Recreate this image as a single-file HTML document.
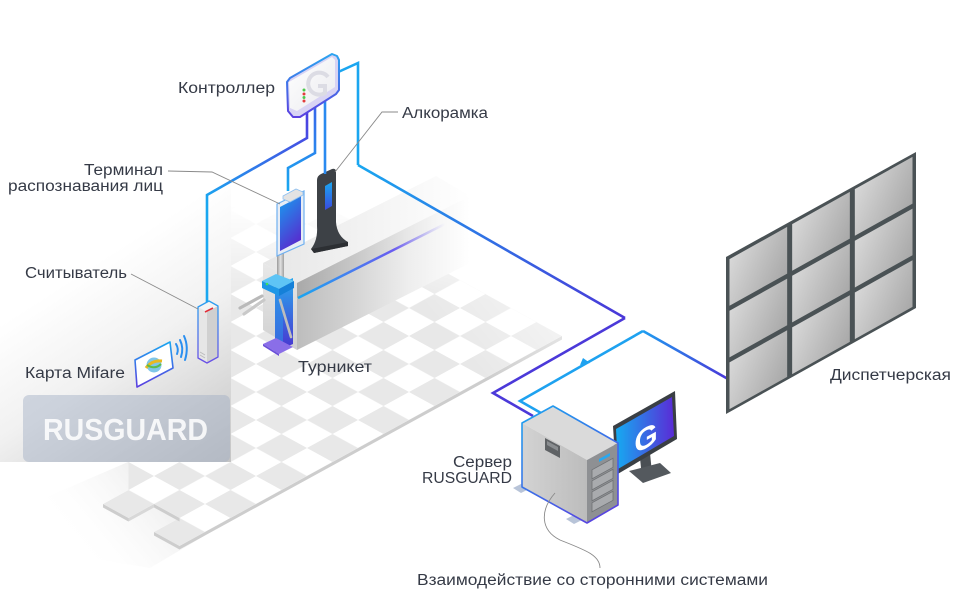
<!DOCTYPE html>
<html><head><meta charset="utf-8">
<style>
html,body{margin:0;padding:0;background:#fff;}
svg{display:block;}
text{font-family:"Liberation Sans",sans-serif;fill:#353a46;}
</style></head><body>
<svg width="973" height="594" viewBox="0 0 973 594" xmlns="http://www.w3.org/2000/svg">
<defs>
 <pattern id="chk" patternUnits="userSpaceOnUse" width="2" height="2" patternTransform="matrix(25.5,14,25.5,-14,154,532)">
  <rect x="0" y="0" width="2" height="2" fill="#ffffff"/>
  <rect x="0" y="0" width="1" height="1" fill="#e8e8e8"/>
  <rect x="1" y="1" width="1" height="1" fill="#e8e8e8"/>
 </pattern>
 <linearGradient id="mv" gradientUnits="userSpaceOnUse" x1="0" y1="205" x2="0" y2="300"><stop offset="0" stop-color="#000"/><stop offset="1" stop-color="#fff"/></linearGradient>
 <linearGradient id="mr" gradientUnits="userSpaceOnUse" x1="600" y1="250" x2="470" y2="360"><stop offset="0" stop-color="#000" stop-opacity="0.9"/><stop offset="1" stop-color="#000" stop-opacity="0"/></linearGradient>
 <mask id="fm" maskUnits="userSpaceOnUse" x="0" y="0" width="973" height="594">
  <rect width="973" height="594" fill="url(#mv)"/>
  <rect width="973" height="594" fill="url(#mr)"/>
 </mask>
 <linearGradient id="panel" gradientUnits="userSpaceOnUse" x1="100" y1="260" x2="231" y2="462"><stop offset="0" stop-color="#ffffff"/><stop offset="0.4" stop-color="#f1f1f1"/><stop offset="1" stop-color="#c4c4c4"/></linearGradient>
 <linearGradient id="shadow" gradientUnits="userSpaceOnUse" x1="190" y1="470" x2="80" y2="560"><stop offset="0" stop-color="#e2e2e2"/><stop offset="1" stop-color="#ffffff" stop-opacity="0"/></linearGradient>
 <linearGradient id="blkFront" gradientUnits="userSpaceOnUse" x1="297" y1="0" x2="470" y2="0"><stop offset="0" stop-color="#bdbdbd"/><stop offset="0.3" stop-color="#d2d2d2"/><stop offset="0.65" stop-color="#eeeeee"/><stop offset="1" stop-color="#ffffff"/></linearGradient>
 <linearGradient id="blkBand" gradientUnits="userSpaceOnUse" x1="297" y1="0" x2="440" y2="0"><stop offset="0" stop-color="#a9a9a9"/><stop offset="1" stop-color="#e0e0e0" stop-opacity="0"/></linearGradient>
 <linearGradient id="blkTop" gradientUnits="userSpaceOnUse" x1="263" y1="0" x2="470" y2="0"><stop offset="0" stop-color="#e6e6e6"/><stop offset="0.6" stop-color="#f5f5f5"/><stop offset="1" stop-color="#ffffff"/></linearGradient>
 <linearGradient id="blkEnd" x1="0" y1="0" x2="0" y2="1"><stop offset="0" stop-color="#e8e8e8"/><stop offset="1" stop-color="#d0d0d0"/></linearGradient>
 <linearGradient id="accent" gradientUnits="userSpaceOnUse" x1="298" y1="0" x2="445" y2="0"><stop offset="0" stop-color="#1aa6f0"/><stop offset="0.65" stop-color="#6a5cf0"/><stop offset="1" stop-color="#8a80f0" stop-opacity="0"/></linearGradient>
 <linearGradient id="turnCol" x1="0" y1="0" x2="0" y2="1"><stop offset="0" stop-color="#2aa8ee"/><stop offset="1" stop-color="#4a30cf"/></linearGradient>
 <linearGradient id="termScr" x1="0" y1="0" x2="0.4" y2="1"><stop offset="0" stop-color="#169ff0"/><stop offset="1" stop-color="#5530d0"/></linearGradient>
 <linearGradient id="alcoScr" x1="0" y1="0" x2="0" y2="1"><stop offset="0" stop-color="#1aa6f0"/><stop offset="1" stop-color="#3a4ae0"/></linearGradient>
 <linearGradient id="pole" x1="0" y1="0" x2="1" y2="0"><stop offset="0" stop-color="#9a9a9a"/><stop offset="0.5" stop-color="#e2e2e2"/><stop offset="1" stop-color="#a0a0a0"/></linearGradient>
 <linearGradient id="gL1" gradientUnits="userSpaceOnUse" x1="307" y1="110" x2="207" y2="205"><stop offset="0" stop-color="#4d3ee0"/><stop offset="1" stop-color="#19a7f0"/></linearGradient>
 <linearGradient id="gL2" gradientUnits="userSpaceOnUse" x1="315" y1="100" x2="288" y2="190"><stop offset="0" stop-color="#3b62ea"/><stop offset="1" stop-color="#19a7f0"/></linearGradient>
 <linearGradient id="gL4" gradientUnits="userSpaceOnUse" x1="358" y1="165" x2="625" y2="318"><stop offset="0" stop-color="#19a7f0"/><stop offset="1" stop-color="#4a36d8"/></linearGradient>
 <linearGradient id="gL5" gradientUnits="userSpaceOnUse" x1="643" y1="331" x2="728" y2="379"><stop offset="0" stop-color="#1f9cf0"/><stop offset="1" stop-color="#4a36d8"/></linearGradient>
 <linearGradient id="ctrlStroke" x1="0" y1="0" x2="0" y2="1"><stop offset="0" stop-color="#2ba4f0"/><stop offset="1" stop-color="#5b3fe0"/></linearGradient>
 <linearGradient id="ctrlFill" x1="0" y1="0" x2="1" y2="1"><stop offset="0" stop-color="#ffffff"/><stop offset="1" stop-color="#ebebef"/></linearGradient>
 <linearGradient id="srvStroke" gradientUnits="userSpaceOnUse" x1="522" y1="405" x2="600" y2="525"><stop offset="0" stop-color="#1aa6f0"/><stop offset="1" stop-color="#5b3fe0"/></linearGradient>
 <linearGradient id="srvLeft" gradientUnits="userSpaceOnUse" x1="522" y1="0" x2="587" y2="0"><stop offset="0" stop-color="#d3d3d3"/><stop offset="1" stop-color="#bcbcbc"/></linearGradient>
 <linearGradient id="monScr" gradientUnits="userSpaceOnUse" x1="616" y1="0" x2="674" y2="0"><stop offset="0" stop-color="#16aaf1"/><stop offset="1" stop-color="#5a2bd6"/></linearGradient>
 <linearGradient id="wallScr" x1="0" y1="0.2" x2="1" y2="0.8"><stop offset="0" stop-color="#dddddd"/><stop offset="1" stop-color="#a3a3a3"/></linearGradient>
 <linearGradient id="cardStroke" x1="0" y1="0" x2="0" y2="1"><stop offset="0" stop-color="#1aa6f0"/><stop offset="1" stop-color="#5b3fe0"/></linearGradient>
 <linearGradient id="readStroke" x1="0" y1="0" x2="0" y2="1"><stop offset="0" stop-color="#2aa0f0"/><stop offset="1" stop-color="#6a4fe6"/></linearGradient>
</defs>

<rect width="973" height="594" fill="#fff"/>

<!-- soft shadow under floor edge -->
<polygon points="231,462 231,520 150,568 30,548 40,500 128,462" fill="url(#shadow)"/>

<!-- floor -->
<g mask="url(#fm)">
 <polygon points="179.5,546 562,336 230.5,154 128.5,210 128.5,490 103,504 128.5,518 154,504 179.5,518 154,532" fill="url(#chk)"/>
 <polygon points="179.5,546 562,336 562,339.5 179.5,549.5" fill="#cdcdcd"/>
 <polygon points="154,532 179.5,546 179.5,549.5 154,535.5" fill="#cdcdcd"/>
 <polygon points="103,504 128.5,518 128.5,521.5 103,507.5" fill="#cdcdcd"/>
 <polygon points="128.5,518 154,504 154,507.5 128.5,521.5" fill="#d8d8d8"/>
 <polygon points="154,504 179.5,518 179.5,521.5 154,507.5" fill="#cdcdcd"/>
</g>

<!-- left panel -->
<rect x="0" y="150" width="231" height="312" fill="url(#panel)"/>

<!-- turnstile block -->
<polygon points="263,263 297,283 470,196 436,176" fill="url(#blkTop)"/>
<polygon points="297,283 470,196 470,263 297,350" fill="url(#blkFront)"/>
<polygon points="297,283 440,211 440,226 297,298" fill="url(#blkBand)"/>
<polygon points="263,263 297,283 297,350 263,330" fill="url(#blkEnd)"/>
<line x1="298" y1="298" x2="445" y2="224" stroke="url(#accent)" stroke-width="2.5"/>

<!-- alcoframe -->
<path d="M317,180 Q317,176 321,174 L332,169 Q336,168 336,172 L336,222 Q337,236 348,242 L348,246 L314,253 L311,249 Q318,240 317,226 Z" fill="#3d4146"/>
<path d="M311,249 L314,253 L348,246 L348,242 Z" fill="#2c2f33"/>
<polygon points="325,186 332,182 332,206 325,210" fill="url(#alcoScr)"/>

<!-- terminal pole -->
<rect x="277" y="250" width="7" height="32" fill="url(#pole)"/>
<ellipse cx="280.5" cy="280" rx="5" ry="2.5" fill="#9a9a9a"/>

<!-- turnstile -->
<polygon points="275,286 293,278 293,344 275,352" fill="url(#turnCol)"/>
<polygon points="275,286 283,282 283,348 275,352" fill="#2f8ee8" opacity="0.6"/>
<line x1="262" y1="296" x2="240" y2="308" stroke="#b9b9b9" stroke-width="3.2" stroke-linecap="round"/>
<line x1="264" y1="300" x2="244" y2="314" stroke="#c9c9c9" stroke-width="3.2" stroke-linecap="round"/>
<line x1="280" y1="300" x2="291" y2="337" stroke="#bdbdbd" stroke-width="2.6" stroke-linecap="round"/>
<polygon points="262,281 276,274 294,281 279,289" fill="#5ec4f5"/>
<polygon points="262,281 279,289 279,296 262,288" fill="#1e97e6"/>
<polygon points="279,289 294,281 294,288 279,296" fill="#1580d8"/>
<circle cx="267" cy="284" r="1.3" fill="#3ee05a"/>
<polygon points="263,344 276,338 293,347 279,354" fill="#8a6ee8"/>
<polygon points="263,344 279,354 279,356 263,346" fill="#6a4ed8"/>

<!-- terminal -->
<polygon points="277,204 304,191 304,244 277,256" fill="#e8edf5" stroke="#6fb0f0" stroke-width="1.2"/>
<polygon points="280,207 301,196 301,240 280,251" fill="url(#termScr)"/>
<polygon points="283,196 296,189 303,192 303,195 290,202 283,199" fill="#e3e3e3" stroke="#8fc0f0" stroke-width="0.8"/>

<!-- connection lines -->
<g fill="none" stroke-width="2.6" stroke-linejoin="miter">
 <polyline points="307,108 307,138 207,195 207,304" stroke="url(#gL1)"/>
 <polyline points="315,103 315,153 288,168 288,191" stroke="url(#gL2)"/>
 <polyline points="325,97 325,174" stroke="#2a8af0"/>
 <polyline points="336,73 358,63 358,165" stroke="#1aa6f0"/>
 <line x1="358" y1="165" x2="625" y2="318" stroke="url(#gL4)"/>
 <polyline points="625,318 493,393 533,416" stroke="#4b39d9"/>
 <polyline points="541,413 520,401 643,331" stroke="#1ea2f0"/>
 <line x1="643" y1="331" x2="728" y2="379" stroke="url(#gL5)"/>
</g>
<polygon points="590,363 580,365 583,358" fill="#1ea2f0"/>

<!-- controller -->
<polygon points="287,82 290,78 332,54 337,56 339,60 339,90 336,94 300,117 293,117 288,111" fill="#d8d3f4" stroke="url(#ctrlStroke)" stroke-width="2" stroke-linejoin="round"/>
<polygon points="289,82 332,57 335,60 335,87 297,111 290,108" fill="url(#ctrlFill)"/>
<path d="M328,77 A11,11 0 1 0 325,93 L325,86 L318,86" fill="none" stroke="#dcdce4" stroke-width="4"/>
<circle cx="304" cy="90" r="1.5" fill="#4cc94c"/>
<circle cx="304" cy="94" r="1.5" fill="#e23c3c"/>
<circle cx="304" cy="97.5" r="1.5" fill="#4cc94c"/>
<circle cx="304" cy="101" r="1.5" fill="#e23c3c"/>

<!-- reader -->
<polygon points="198,307 209,301 218,306 207,312" fill="#f4f4f4"/>
<polygon points="198,307 207,312 207,363 198,358" fill="#e6e6e6"/>
<polygon points="207,312 218,306 218,357 207,363" fill="#d0d0d0"/>
<polygon points="198,307 209,301 218,306 218,357 207,363 198,358" fill="none" stroke="url(#readStroke)" stroke-width="1.3" stroke-linejoin="round"/>
<line x1="205" y1="312" x2="213" y2="308" stroke="#e0303a" stroke-width="1.6"/>
<line x1="200" y1="352" x2="205" y2="355" stroke="#bbb" stroke-width="1"/>
<line x1="200" y1="355" x2="205" y2="358" stroke="#bbb" stroke-width="1"/>

<!-- card -->
<polygon points="135,360 170,342 173,368 137,387" fill="#fff" stroke="url(#cardStroke)" stroke-width="1.6" stroke-linejoin="round"/>
<circle cx="154" cy="365" r="7.5" fill="#7fc6e8"/>
<path d="M146,368 Q152,360 162,361" stroke="#e8b820" stroke-width="3" fill="none"/>
<path d="M147,365 Q155,370 161,364" stroke="#5cbc4a" stroke-width="2" fill="none"/>
<g fill="none" stroke="#2a8ff0" stroke-width="2" stroke-linecap="round">
 <path d="M176,344 Q179,349 177,354"/>
 <path d="M180,340 Q184,348 181,357"/>
 <path d="M184,336 Q189,347 185,360"/>
</g>

<!-- monitor -->
<polygon points="640,458 650,453 652,473 642,478" fill="#4a4f54"/>
<polygon points="629,471 660,463 671,473 643,483" fill="#54595e"/>
<polygon points="613,426 675,391 677,439 616,475" fill="#3a3f44"/>
<polygon points="616,429 672,397 674,436 618,469" fill="url(#monScr)"/>
<text transform="translate(646,448) skewY(-29)" text-anchor="middle" font-size="30" font-weight="bold" style="fill:#ffffff">G</text>

<!-- server -->
<polygon points="513,488 527,481 535,486 521,493" fill="#b8c4d8"/>
<polygon points="566,519 580,512 588,517 574,524" fill="#b8c4d8"/>
<polygon points="522,423 553,406 618,443 587,460" fill="#dadada"/>
<polygon points="522,423 587,460 587,523 522,487" fill="url(#srvLeft)"/>
<polygon points="587,460 618,443 618,505 587,523" fill="#8e9093"/>
<polygon points="545,438 560,446 560,458 545,450" fill="#5f6265"/>
<polygon points="547,441 558,447 558,451 547,445" fill="#8a8d90"/>
<polygon points="599,459 610,453 610,456 599,462" fill="#28a8f0"/>
<g fill="#a9abae" stroke="#6e7174" stroke-width="0.8">
 <polygon points="592,469.8 613,458.3 613,467.3 592,478.8"/>
 <polygon points="592,480.8 613,469.3 613,478.3 592,489.8"/>
 <polygon points="592,491.8 613,480.3 613,489.3 592,500.8"/>
 <polygon points="592,502.8 613,491.3 613,500.3 592,511.8"/>
</g>
<polygon points="522,423 553,406 618,443 618,505 587,523 522,487" fill="none" stroke="url(#srvStroke)" stroke-width="1.6" stroke-linejoin="round"/>

<!-- video wall -->
<polygon points="726,257 916,152 916,308 726,414" fill="#4a5255"/>
<g fill="url(#wallScr)">
 <polygon points="729.5,259.1 787.17,226.9 787.17,273.57 729.5,305.77"/>
 <polygon points="729.5,310.77 787.17,278.57 787.17,325.23 729.5,357.43"/>
 <polygon points="729.5,362.43 787.17,330.23 787.17,376.9 729.5,409.1"/>
 <polygon points="792.17,224.1 849.83,191.9 849.83,238.57 792.17,270.77"/>
 <polygon points="792.17,275.77 849.83,243.57 849.83,290.23 792.17,322.43"/>
 <polygon points="792.17,327.43 849.83,295.23 849.83,341.9 792.17,374.1"/>
 <polygon points="854.83,189.11 912.5,156.9 912.5,203.57 854.83,235.78"/>
 <polygon points="854.83,240.78 912.5,208.57 912.5,255.23 854.83,287.44"/>
 <polygon points="854.83,292.44 912.5,260.23 912.5,306.9 854.83,339.11"/>
</g>

<!-- leader lines -->
<g fill="none" stroke="#8a8a8a" stroke-width="0.9">
 <polyline points="168,171 212,172 280,204"/>
 <polyline points="398,112 382,112 335,172"/>
 <line x1="131" y1="274" x2="198" y2="309"/>
 <path d="M555,493 C540,510 540,530 560,540 C585,550 600,555 600,568"/>
</g>

<!-- watermark box -->
<rect x="23" y="395" width="207" height="67" rx="6" fill="rgb(160,172,195)" fill-opacity="0.45"/>
<text x="43" y="440" font-size="31" font-weight="bold" textLength="165" lengthAdjust="spacingAndGlyphs" style="fill:#ffffff;fill-opacity:0.85">RUSGUARD</text>

<!-- labels -->
<g font-size="15.5">
 <text x="178" y="93" textLength="97" lengthAdjust="spacingAndGlyphs">Контроллер</text>
 <text x="402" y="118" textLength="86" lengthAdjust="spacingAndGlyphs">Алкорамка</text>
 <text x="84" y="175" textLength="79" lengthAdjust="spacingAndGlyphs">Терминал</text>
 <text x="8" y="191" textLength="155" lengthAdjust="spacingAndGlyphs">распознавания лиц</text>
 <text x="25" y="278" textLength="102" lengthAdjust="spacingAndGlyphs">Считыватель</text>
 <text x="25" y="378" textLength="100" lengthAdjust="spacingAndGlyphs">Карта Mifare</text>
 <text x="298" y="372" textLength="74" lengthAdjust="spacingAndGlyphs">Турникет</text>
 <text x="830" y="380" textLength="121" lengthAdjust="spacingAndGlyphs">Диспетчерская</text>
 <text x="453" y="467" textLength="59" lengthAdjust="spacingAndGlyphs">Сервер</text>
 <text x="422" y="483" textLength="90" lengthAdjust="spacingAndGlyphs">RUSGUARD</text>
 <text x="417" y="585" textLength="351" lengthAdjust="spacingAndGlyphs">Взаимодействие со сторонними системами</text>
</g>
</svg>
</body></html>
